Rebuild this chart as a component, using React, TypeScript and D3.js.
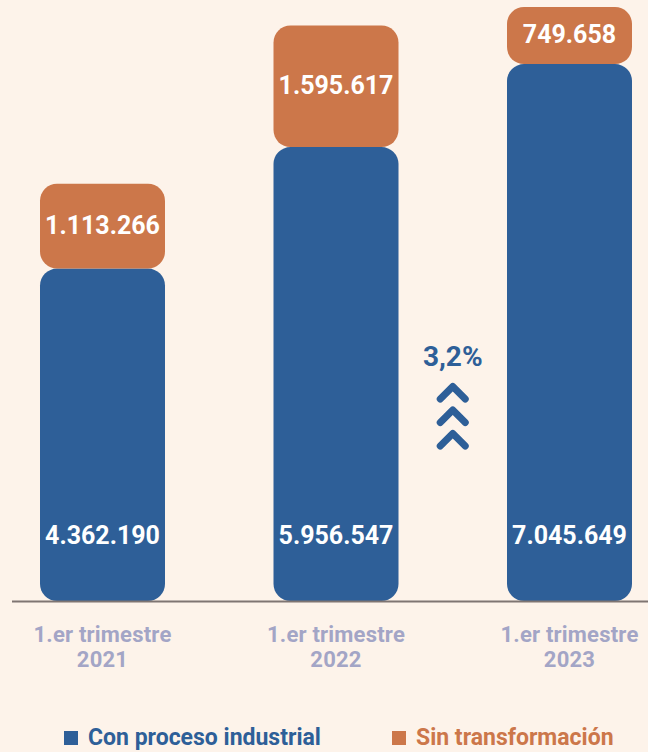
import React from "react";
import * as d3 from "d3";

const categories = ["2021", "2022", "2023"];
const conProceso = [4362190, 5956547, 7045649];
const sinTransformacion = [1113266, 1595617, 749658];
const categoryLine1 = "1.er trimestre";
const legendLabels = ["Con proceso industrial", "Sin transformación"];
const growthLabel = "3,2%";

const BLUE = "#2e5f98";
const ORANGE = "#cc774a";
const BG = "#fdf3ea";
const AXIS = "#7f7572";
const CAT = "#a3a5c6";

const fmt = (v: number) => d3.format(",")(v).replace(/,/g, ".");

export default function App() {
  const W = 648;
  const H = 752;
  const baseY = 601;
  const x = d3.scalePoint<string>().domain(categories).range([102.5, 569.5]);
  const barW = 125;
  const maxTotal = d3.max(categories.map((_, i) => conProceso[i] + sinTransformacion[i])) as number;
  const y = d3.scaleLinear().domain([0, maxTotal]).range([baseY, 7]);
  const r = 17;

  const chevY = [392.5, 416, 439.5];
  const chevX = ((x("2022") as number) + (x("2023") as number)) / 2;

  return (
    <div style={{ position: "fixed", left: 0, top: 0, width: W, height: H, background: BG }}>
      <svg width={W} height={H} style={{ display: "block" }} fontFamily="Roboto, sans-serif">
        <rect width={W} height={H} fill={BG} />
        {categories.map((c, i) => {
          const cx = x(c) as number;
          const b0 = y(0);
          const b1 = y(conProceso[i]);
          const o1 = y(conProceso[i] + sinTransformacion[i]);
          return (
            <g key={c}>
              <rect x={cx - barW / 2} y={b1} width={barW} height={b0 - b1} rx={r} fill={BLUE} />
              <rect x={cx - barW / 2} y={o1} width={barW} height={b1 - o1} rx={r} fill={ORANGE} />
              <text x={cx} y={(o1 + b1) / 2 - 1} textAnchor="middle" dominantBaseline="central" fill="#fff" fontWeight={700} fontSize={25}>
                {fmt(sinTransformacion[i])}
              </text>
              <text x={cx} y={535} textAnchor="middle" dominantBaseline="central" fill="#fff" fontWeight={700} fontSize={25}>
                {fmt(conProceso[i])}
              </text>
              <text x={cx} y={642} textAnchor="middle" fill={CAT} fontWeight={700} fontSize={22} letterSpacing={0.2}>
                {categoryLine1}
              </text>
              <text x={cx} y={667} textAnchor="middle" fill={CAT} fontWeight={700} fontSize={22} letterSpacing={0.2}>
                {c}
              </text>
            </g>
          );
        })}
        <line x1={12} x2={W} y1={baseY + 0.5} y2={baseY + 0.5} stroke={AXIS} strokeWidth={2} />
        <text x={chevX} y={356} textAnchor="middle" dominantBaseline="central" fill={BLUE} fontWeight={700} fontSize={28}>
          {growthLabel}
        </text>
        {chevY.map((cy, i) => (
          <path
            key={i}
            d={`M${chevX - 12.5},${cy + 6.5} L${chevX},${cy - 6} L${chevX + 12.5},${cy + 6.5}`}
            fill="none"
            stroke={BLUE}
            strokeWidth={7}
            strokeLinecap="round"
            strokeLinejoin="round"
          />
        ))}
        <g>
          <rect x={64} y={731} width={14} height={14} fill={BLUE} />
          <text x={88} y={737} dominantBaseline="central" fill={BLUE} fontWeight={700} fontSize={23}>
            {legendLabels[0]}
          </text>
          <rect x={392} y={731} width={14} height={14} fill={ORANGE} />
          <text x={416} y={737} dominantBaseline="central" fill={ORANGE} fontWeight={700} fontSize={23}>
            {legendLabels[1]}
          </text>
        </g>
      </svg>
    </div>
  );
}
